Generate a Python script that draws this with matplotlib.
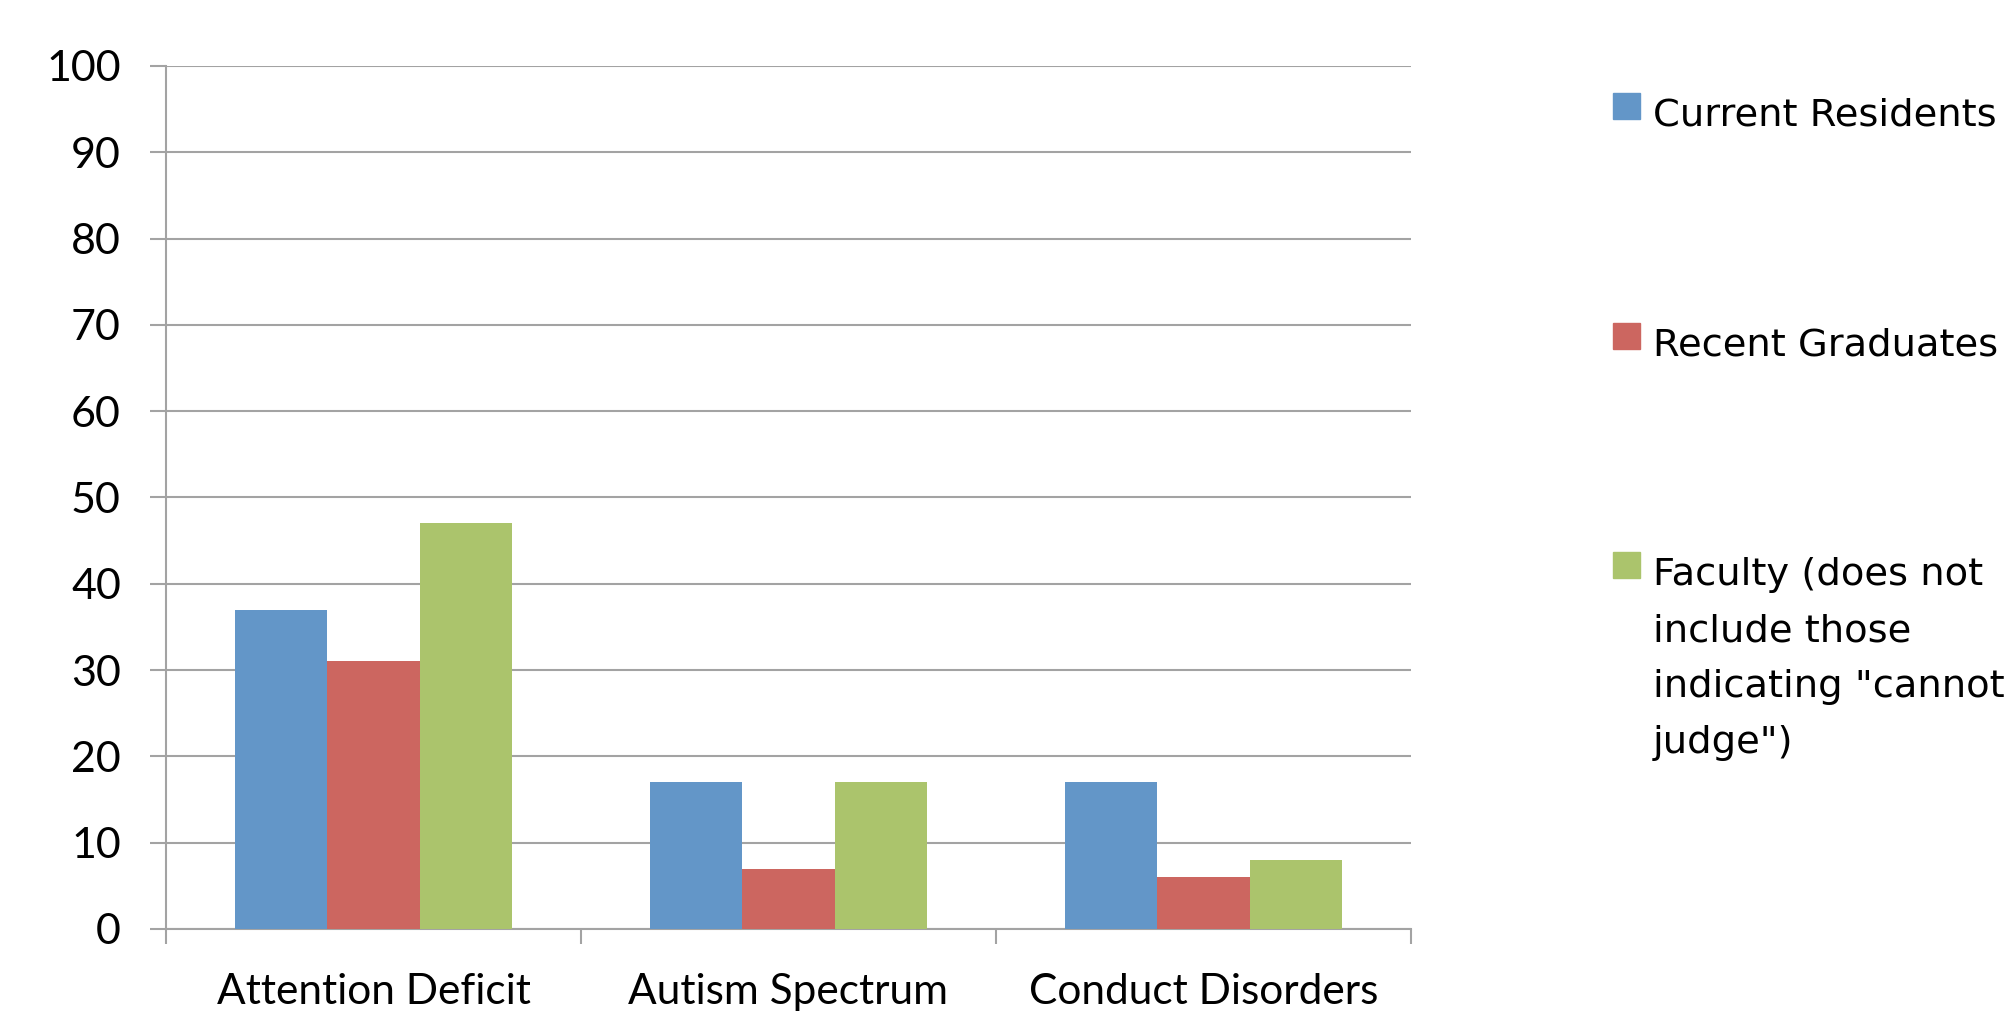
import matplotlib
matplotlib.use("Agg")
import matplotlib.pyplot as plt
from matplotlib.patches import Rectangle
import numpy as np

categories = ["Attention Deficit", "Autism Spectrum", "Conduct Disorders"]
series_names = [
    "Current Residents",
    "Recent Graduates",
    "Faculty (does not\ninclude those\nindicating \"cannot\njudge\")",
]
current_residents = [37, 17, 17]
recent_graduates = [31, 7, 6]
faculty = [47, 17, 8]
y_ticks = [0, 10, 20, 30, 40, 50, 60, 70, 80, 90, 100]

colors = ["#6396C8", "#CC6660", "#ABC46C"]
grid_gray = "#A3A3A3"

W, H = 2008, 1011
fig = plt.figure(figsize=(W / 100, H / 100), dpi=100)
ax = fig.add_axes([166 / W, (H - 929) / H, (1411 - 166) / W, (929 - 66) / H])

x = np.arange(len(categories))
bw = 0.222
for i, vals in enumerate([current_residents, recent_graduates, faculty]):
    ax.bar(x + (i - 1) * bw, vals, width=bw, color=colors[i], zorder=3,
           linewidth=0)

ax.set_xlim(-0.5, len(categories) - 0.5)
ax.set_ylim(0, 100)
ax.set_yticks(y_ticks)
ax.set_yticklabels([str(t) for t in y_ticks])
ax.yaxis.grid(True, color=grid_gray, linewidth=1.5, zorder=0)
ax.set_axisbelow(True)

# major x ticks mark category boundaries; minor ticks carry the names
ax.set_xticks(np.arange(len(categories) + 1) - 0.5)
ax.set_xticklabels([])
ax.set_xticks(x, minor=True)
ax.set_xticklabels(categories, minor=True)

for s in ["top", "right"]:
    ax.spines[s].set_visible(False)
for s in ["left", "bottom"]:
    ax.spines[s].set_color(grid_gray)
    ax.spines[s].set_linewidth(1.5)

font = "Lato"
ax.tick_params(axis="y", which="major", length=11.5, width=1.5, color=grid_gray,
               direction="out", pad=21, labelsize=31)
ax.tick_params(axis="x", which="major", length=11, width=1.5, color=grid_gray,
               direction="out")
ax.tick_params(axis="x", which="minor", length=0, pad=32, labelsize=30.5)
for lbl in ax.get_yticklabels() + ax.get_xticklabels(minor=True):
    lbl.set_fontfamily(font)

# legend drawn in figure pixel coordinates, one text per label line
legend_rows = [106, 336, 565]
line_step = 56
for name, c, yc in zip(series_names, colors, legend_rows):
    fig.patches.append(Rectangle((1613, H - yc - 13), 27, 26, color=c,
                                 transform=None, figure=fig))
    for k, line in enumerate(name.split("\n")):
        fig.text(1653 / W, (H - (yc + 20 + k * line_step)) / H, line,
                 fontsize=27.7, family="DejaVu Sans", va="baseline",
                 ha="left", color="black")

fig.savefig("out.png", dpi=100, facecolor="white")
